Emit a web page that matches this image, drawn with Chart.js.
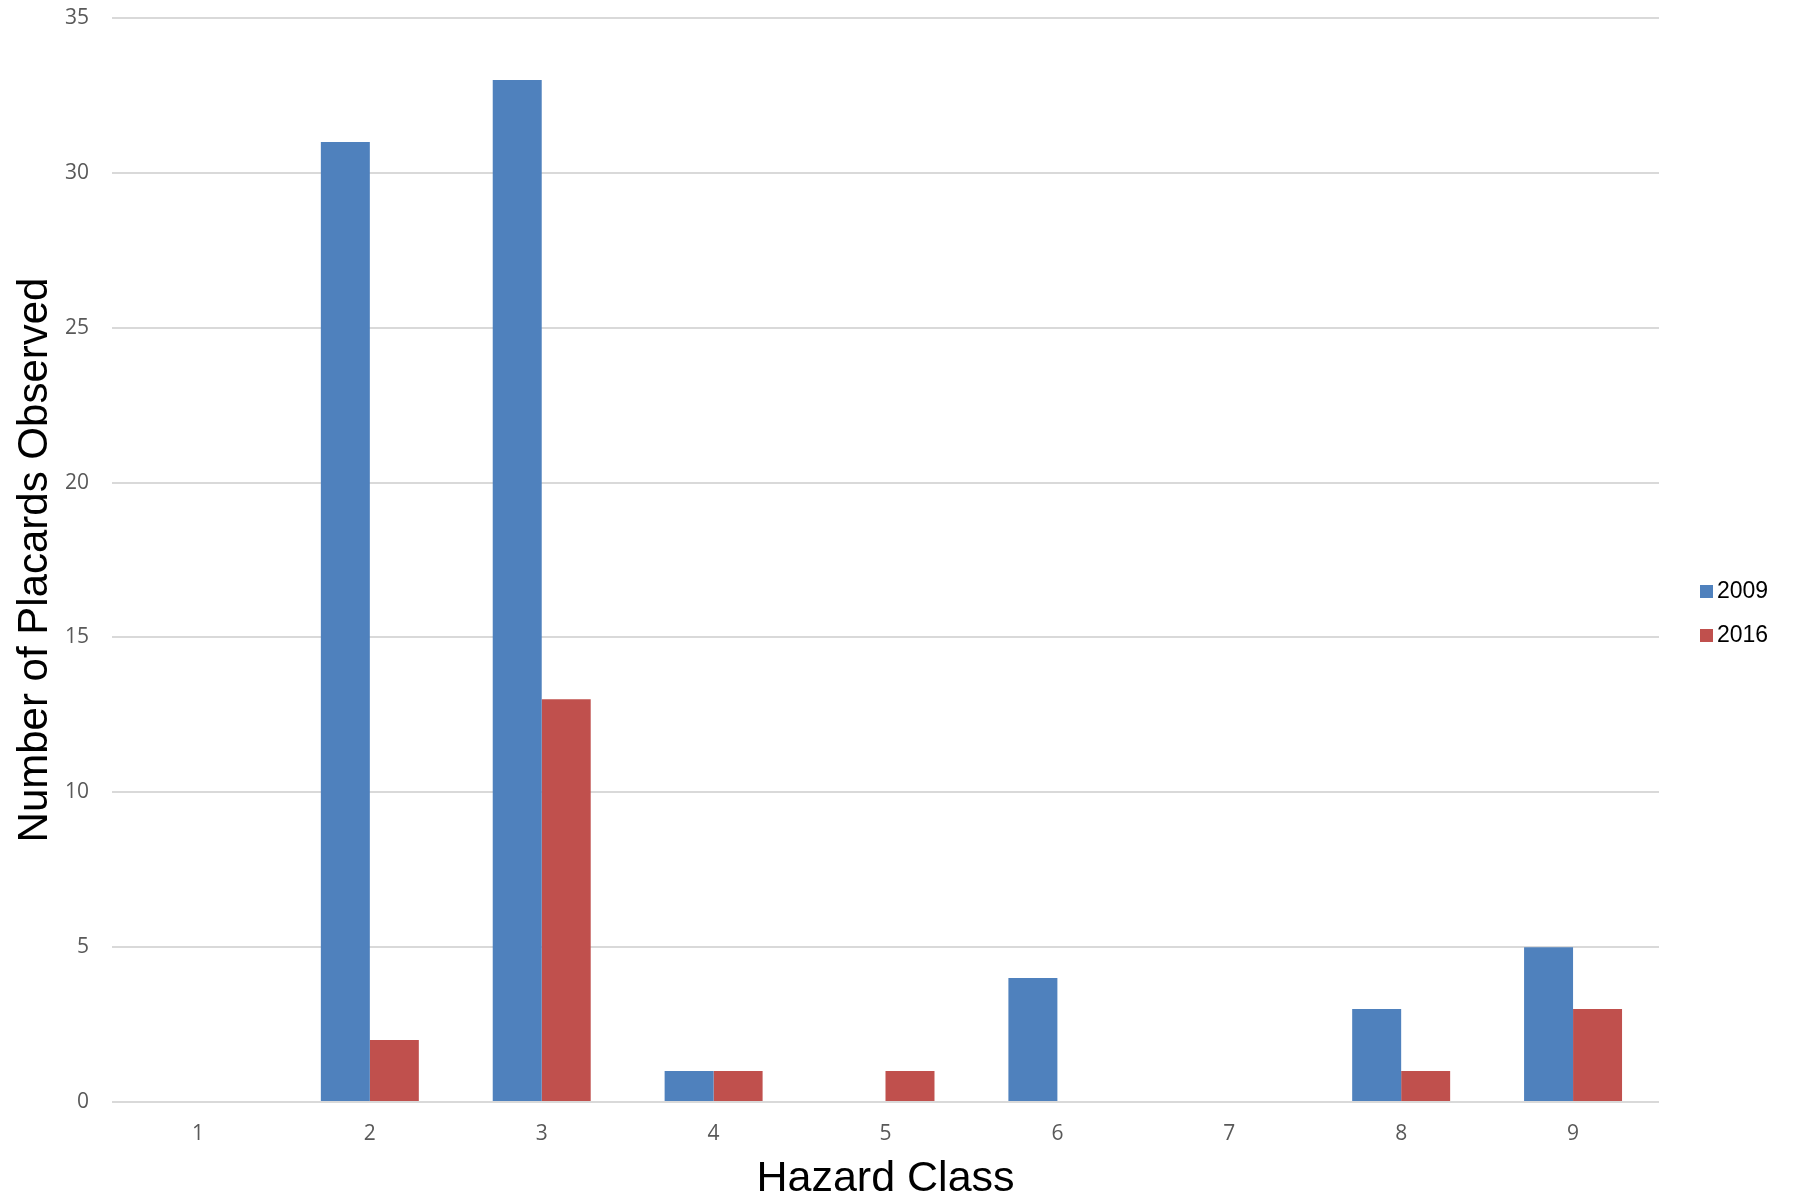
<!DOCTYPE html>
<html>
<head>
<meta charset="utf-8">
<title>Hazard Class placards</title>
<script src="https://cdn.jsdelivr.net/npm/chart.js@4.4.1/dist/chart.umd.min.js"></script>
<style>
  html, body { margin: 0; padding: 0; background: #ffffff; }
  #wrap { width: 1795px; height: 1204px; }
</style>
</head>
<body>
<div id="wrap"><canvas id="chartCanvas" width="1795" height="1204"></canvas></div>
<script>
// Data
const hazardClasses = ['1', '2', '3', '4', '5', '6', '7', '8', '9'];
const placards2009 = [0, 31, 33, 1, 0, 4, 0, 3, 5];
const placards2016 = [0, 2, 13, 1, 1, 0, 0, 1, 3];
const seriesNames = ['2009', '2016'];
const yTicks = [0, 5, 10, 15, 20, 25, 30, 35];

const blue = '#4f81bd';
const red = '#c0504d';

// Simple legend drawn on the right, like the original
const sideLegend = {
    id: 'sideLegend',
    afterDraw(chart) {
        const ctx = chart.ctx;
        const rows = [591, 635];
        ctx.save();
        ctx.font = '23px "Liberation Sans", Arial, sans-serif';
        ctx.textBaseline = 'middle';
        ctx.textAlign = 'left';
        chart.data.datasets.forEach((ds, i) => {
            ctx.fillStyle = ds.backgroundColor;
            ctx.fillRect(1700, rows[i] - 6, 13, 13);
            ctx.fillStyle = '#000000';
            ctx.fillText(ds.label, 1717, rows[i] + 1);
        });
        ctx.restore();
    }
};

const ctx = document.getElementById('chartCanvas').getContext('2d');
new Chart(ctx, {
    type: 'bar',
    data: {
        labels: hazardClasses,
        datasets: [
            { label: seriesNames[0], data: placards2009, backgroundColor: blue },
            { label: seriesNames[1], data: placards2016, backgroundColor: red }
        ]
    },
    options: {
        responsive: false,
        animation: false,
        layout: { padding: { top: 18, right: 136, left: 0, bottom: 0 } },
        datasets: {
            bar: { categoryPercentage: 0.57, barPercentage: 1.0 }
        },
        plugins: {
            legend: { display: false },
            tooltip: { enabled: false }
        },
        scales: {
            x: {
                grid: { display: false, drawTicks: false },
                border: { display: false },
                ticks: {
                    color: '#595959',
                    font: { family: '"Open Sans", sans-serif', size: 21 },
                    padding: 19
                },
                title: {
                    display: true,
                    text: 'Hazard Class',
                    color: '#000000',
                    font: { family: '"Liberation Sans", Arial, sans-serif', size: 43, lineHeight: 1 },
                    padding: { top: 3, bottom: 3 }
                },
                afterFit(scale) { scale.height = 102; }
            },
            y: {
                min: 0,
                max: 35,
                // invisible tick marks give the label gap without padding the top
                grid: { color: '#d9d9d9', lineWidth: 2, drawTicks: true, tickLength: 23, tickColor: 'rgba(0,0,0,0)' },
                border: { display: false },
                afterBuildTicks(scale) { scale.ticks = yTicks.map(v => ({ value: v })); },
                ticks: {
                    color: '#595959',
                    font: { family: '"Open Sans", sans-serif', size: 21 },
                    padding: 0
                },
                title: {
                    display: true,
                    text: 'Number of Placards Observed',
                    color: '#000000',
                    font: { family: '"Liberation Sans", Arial, sans-serif', size: 42, lineHeight: 1 },
                    padding: { top: 14, bottom: 0 }
                },
                afterFit(scale) { scale.width = 112; }
            }
        }
    },
    plugins: [sideLegend]
});
</script>
</body>
</html>
